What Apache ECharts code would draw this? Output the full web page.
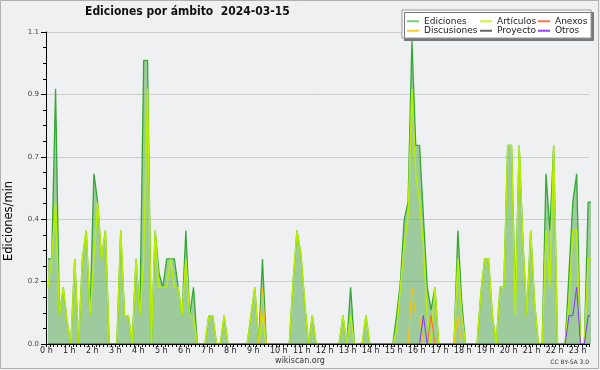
<!DOCTYPE html>
<html><head><meta charset="utf-8">
<script src="https://cdn.jsdelivr.net/npm/echarts@6/dist/echarts.min.js"></script>
<style>html,body{margin:0;padding:0;background:#eff0f1}#c{width:600px;height:370px}</style>
</head><body><div id="c"></div>
<script>
// 10-minute bins, edits per minute (bin centres at 0:05, 0:15, ...)
const ediciones = [
0.3,0.3,0.9,0.1,0.2,0.08,0,0.3,0,0.3,0.4,0.1,
0.6,0.5,0.3,0.4,0,0,0,0.4,0.1,0.1,0,0.3,
0.1,1.0,1.0,0,0.4,0.25,0.2,0.3,0.3,0.3,0.2,0.1,
0.4,0.1,0.2,0,0,0,0.1,0.1,0,0,0.1,0,
0,0,0,0,0,0.1,0.2,0,0.3,0,0,0,
0,0,0,0,0.22,0.4,0.32,0.15,0,0.1,0,0,
0,0,0,0,0,0.1,0,0.2,0,0,0,0.1,
0,0,0,0,0,0,0,0.1,0.22,0.44,0.5,1.07,
0.7,0.7,0.45,0.2,0.12,0.2,0,0,0,0,0,0.4,
0.15,0,0,0,0,0.18,0.3,0.3,0.1,0,0.2,0.2,
0.7,0.7,0.15,0.7,0.35,0.1,0.4,0.15,0,0,0.6,0.4,
0.7,0,0,0,0.25,0.5,0.6,0,0,0.5,0.5];
const articulos = [
0.2,0.3,0.5,0.1,0.2,0.08,0,0.3,0,0.3,0.4,0.1,
0.3,0.5,0.3,0.4,0,0,0,0.4,0.1,0.1,0,0.3,
0.1,0.3,0.9,0,0.4,0.2,0.2,0.2,0.3,0.2,0.2,0.1,
0.3,0.1,0.1,0,0,0,0.1,0.1,0,0,0.1,0,
0,0,0,0,0,0.1,0.2,0,0.1,0,0,0,
0,0,0,0,0.22,0.4,0.32,0.15,0,0.1,0,0,
0,0,0,0,0,0.1,0,0.1,0,0,0,0.1,
0,0,0,0,0,0,0,0.05,0.2,0.35,0.45,0.9,
0.6,0.5,0.35,0.1,0,0.2,0,0,0,0,0,0.3,
0.1,0,0,0,0,0.18,0.3,0.3,0.1,0,0.2,0.2,
0.7,0.7,0.1,0.7,0.35,0.1,0.4,0.15,0,0,0.4,0.2,
0.7,0,0,0,0.15,0.4,0.4,0,0,0.3,0.3];
const anexos = [
0,0,0,0,0,0,0,0,0,0,0,0,
0,0,0,0,0,0,0,0,0,0,0,0,
0,0,0,0,0,0,0,0,0,0,0,0,
0,0,0,0,0,0,0,0,0,0,0,0,
0,0,0,0,0,0,0,0,0,0,0,0,
0,0,0,0,0,0,0,0,0,0,0,0,
0,0,0,0,0,0,0,0,0,0,0,0,
0,0,0,0,0,0,0,0,0,0,0,0,
0,0,0,0,0.1,0,0,0,0,0,0,0,
0,0,0,0,0,0,0,0,0,0,0,0,
0,0,0,0,0,0,0,0,0,0,0,0,
0,0,0,0,0,0,0,0,0,0,0];
const discusiones = [
0,0,0,0,0,0,0,0,0,0,0,0,
0,0,0,0,0,0,0,0,0,0,0,0,
0,0,0,0,0,0,0,0,0,0,0,0,
0,0,0,0,0,0,0,0,0,0,0,0,
0,0,0,0,0,0,0,0,0.2,0,0,0,
0,0,0,0,0,0,0,0,0,0,0,0,
0,0,0,0,0,0,0,0,0,0,0,0,
0,0,0,0,0,0,0,0,0,0,0,0.2,
0.1,0.1,0,0,0,0,0,0,0,0,0,0.1,
0,0,0,0,0,0,0,0,0,0,0,0,
0,0,0,0,0,0,0,0,0,0,0,0,
0,0,0,0,0,0,0,0,0,0,0];
const proyecto = [
0,0,0,0,0,0,0,0,0,0,0,0,
0,0,0,0,0,0,0,0,0,0,0,0,
0,0,0,0,0,0,0,0,0,0,0,0,
0,0,0,0,0,0,0,0,0,0,0,0,
0,0,0,0,0,0,0,0,0,0,0,0,
0,0,0,0,0,0,0,0,0,0,0,0,
0,0,0,0,0,0,0,0,0,0,0,0,
0,0,0,0,0,0,0,0,0,0,0,0,
0,0,0,0,0,0,0,0,0,0,0,0,
0,0,0,0,0,0,0,0,0,0,0,0,
0,0,0,0,0,0,0,0,0,0,0,0,
0,0,0,0,0,0,0,0,0,0,0];
const otros = [
0,0,0,0,0,0,0,0,0,0,0,0,
0,0,0,0,0,0,0,0,0,0,0,0,
0,0,0,0,0,0,0,0,0,0,0,0,
0,0,0,0,0,0,0,0,0,0,0,0,
0,0,0,0,0,0,0,0,0,0,0,0,
0,0,0,0,0,0,0,0,0,0,0,0,
0,0,0,0,0,0,0,0,0,0,0,0,
0,0,0,0,0,0,0,0,0,0,0,0,
0,0,0.1,0,0,0,0,0,0,0,0,0,
0,0,0,0,0,0,0,0,0,0,0,0,
0,0,0,0,0,0,0,0,0,0,0,0,
0,0,0,0,0.1,0.1,0.2,0,0,0.1,0.1];
const hourSuffix = ' h';
const yTickDecimals = 1;

const F = "'DejaVu Sans', sans-serif";
const toXY = arr => arr.map((v, i) => [(i + 0.5) / 6, v]);
const chart = echarts.init(document.getElementById('c'));

function lineSeries(name, data, color, width, extra) {
  return Object.assign({
    name, type: 'line', data: toXY(data), symbol: 'none', showSymbol: false,
    lineStyle: { color, width }, itemStyle: { color }, silent: true,
    emphasis: { disabled: true }, animation: false
  }, extra || {});
}
const legendBase = {
  orient: 'vertical', top: 16.5, itemWidth: 12, itemHeight: 2, itemGap: 0, padding: 0,
  icon: 'rect', selectedMode: false, z: 6,
  textStyle: { fontFamily: F, fontSize: 9, color: '#222', lineHeight: 9.5 }
};
chart.setOption({
  animation: false,
  backgroundColor: '#eff0f1',
  title: {
    text: 'Ediciones por ámbito  2024-03-15', left: 85, top: 6, padding: 0,
    textStyle: { fontFamily: "'DejaVu Sans Condensed','DejaVu Sans'", fontSize: 12, fontWeight: 'bold', color: '#111' }
  },
  grid: { left: 46, right: 11, top: 32, bottom: 26 },
  xAxis: {
    type: 'value', min: 0, max: 23.62, interval: 1, z: 10,
    axisLine: { lineStyle: { color: '#000', width: 1 } },
    axisTick: { length: 3, lineStyle: { color: '#000' } },
    minorTick: { show: true, splitNumber: 6, length: 3, lineStyle: { color: '#000' } },
    splitLine: { show: false },
    axisLabel: { formatter: v => v + hourSuffix, align: 'left', padding: [0, 0, 0, -6], margin: 3,
      fontSize: 8, fontFamily: F, color: '#222' }
  },
  yAxis: {
    type: 'value', min: 0, max: 1.1, interval: 0.22,
    axisLine: { show: true, lineStyle: { color: '#000' } },
    axisTick: { show: true, length: 5, lineStyle: { color: '#000' } },
    minorTick: { show: true, splitNumber: 4, length: 3, lineStyle: { color: '#000' } },
    splitLine: { show: true, lineStyle: { color: '#cccccc', width: 1 } },
    axisLabel: { formatter: v => v.toFixed(yTickDecimals), margin: 7, fontSize: 7, fontFamily: F, color: '#444' }
  },
  legend: [
    Object.assign({}, legendBase, { left: 407, data: [
      { name: 'Ediciones', itemStyle: { color: '#77cc77' } },
      { name: 'Discusiones', itemStyle: { color: '#ffcc33' } }] }),
    Object.assign({}, legendBase, { left: 480, data: [
      { name: 'Artículos', itemStyle: { color: '#ccf533' } },
      { name: 'Proyecto', itemStyle: { color: '#666666' } }] }),
    Object.assign({}, legendBase, { left: 538, data: [
      { name: 'Anexos', itemStyle: { color: '#ff7a3d' } },
      { name: 'Otros', itemStyle: { color: '#9944ff' } }] })
  ],
  graphic: [
    { type: 'rect', silent: true, z: 0, shape: { x: 0.5, y: 0.5, width: 598, height: 368 },
      style: { fill: 'none', stroke: '#b0b0b0', lineWidth: 1 } },
    { type: 'rect', silent: true, z: 5, shape: { x: 402, y: 10, width: 189, height: 28 },
      style: { fill: '#fff', stroke: '#999', lineWidth: 1, shadowColor: '#777', shadowOffsetX: 2.5, shadowOffsetY: 2.5, shadowBlur: 0 } },
    { type: 'text', silent: true, x: 9, y: 221, rotation: Math.PI / 2,
      style: { text: 'Ediciones/min', font: "11.5px 'DejaVu Sans'", fill: '#000', align: 'center', verticalAlign: 'middle' } },
    { type: 'text', silent: true, x: 300, y: 361,
      style: { text: 'wikiscan.org', font: "8px 'DejaVu Sans'", fill: '#333', align: 'center', verticalAlign: 'middle' } },
    { type: 'text', silent: true, x: 589, y: 362.5,
      style: { text: 'CC BY-SA 3.0', font: "6px 'DejaVu Sans'", fill: '#333', align: 'right', verticalAlign: 'middle' } }
  ],
  series: [
    lineSeries('Ediciones', ediciones, '#33a833', 1.3, { areaStyle: { color: 'rgba(77,166,74,0.5)', opacity: 1 } }),
    lineSeries('Artículos', articulos, '#b8ef00', 1.5),
    lineSeries('Anexos', anexos, '#ff6633', 1),
    lineSeries('Discusiones', discusiones, '#ffc400', 1),
    lineSeries('Proyecto', proyecto, '#666666', 1),
    lineSeries('Otros', otros, '#8833ff', 1)
  ]
});
</script></body></html>
